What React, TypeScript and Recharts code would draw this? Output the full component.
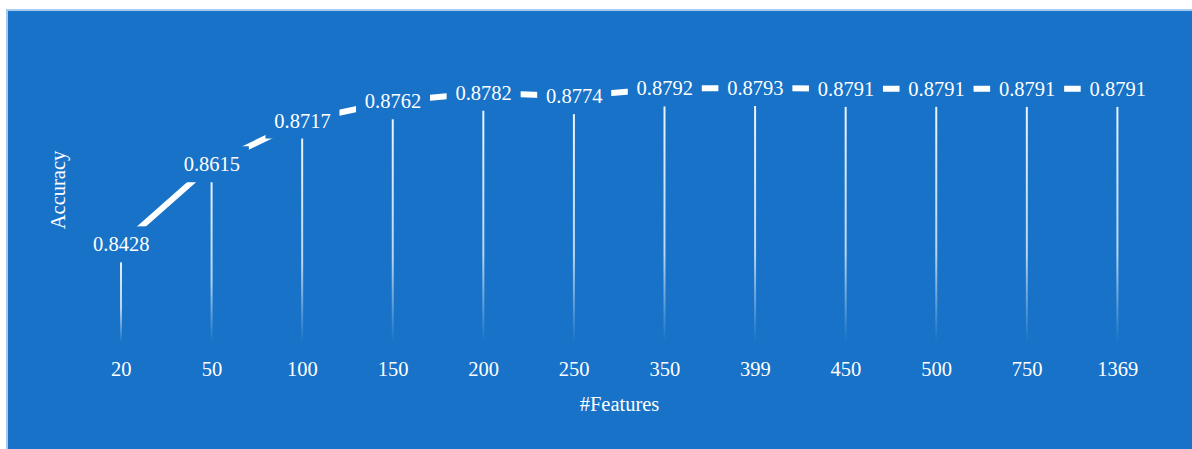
import React from 'react';
import { ComposedChart, Line, Bar, XAxis, YAxis, LabelList } from 'recharts';

const features = ['20', '50', '100', '150', '200', '250', '350', '399', '450', '500', '750', '1369'];
const accuracy = [0.8428, 0.8615, 0.8717, 0.8762, 0.8782, 0.8774, 0.8792, 0.8793, 0.8791, 0.8791, 0.8791, 0.8791];
const yDomain = [0.82, 0.88];

const BLUE = '#1772c8';
const FONT = '"Liberation Serif", "Times New Roman", serif';
const FS = 20.5;

const data = features.map((f, i) => ({ feature: f, acc: accuracy[i] }));

// label box filled with background colour, hides the line behind it
const ValueLabel = (props: any) => {
    const { x, y, value } = props;
    return (
        <g>
            <rect x={x - 37} y={y - 18} width={74} height={36} fill={BLUE} />
            <text x={x} y={y + 7} textAnchor="middle" fill="#fff" fontSize={FS} fontFamily={FONT}>
                {Number(value).toFixed(4)}
            </text>
        </g>
    );
};

const App: React.FC = () => {
    return (
        <div style={{ position: 'absolute', left: 0, top: 0, width: 1192, height: 449, background: '#fff' }}>
            <div
                style={{
                    position: 'absolute',
                    left: 6,
                    top: 9,
                    width: 1186,
                    height: 440,
                    boxSizing: 'border-box',
                    background: BLUE,
                    borderLeft: '2px solid #a6cbee',
                    borderTop: '2px solid #a6cbee'
                }}
            />
            <div style={{ position: 'absolute', left: 0, top: 0 }}>
                <ComposedChart
                    width={1192}
                    height={449}
                    data={data}
                    margin={{ top: 85, right: 29, bottom: 47, left: 16 }}
                >
                    <defs>
                        <linearGradient id="dropFade" x1="0" y1="0" x2="0" y2="1">
                            <stop offset="0%" stopColor="#ffffff" stopOpacity={0.95} />
                            <stop offset="65%" stopColor="#ffffff" stopOpacity={0.7} />
                            <stop offset="100%" stopColor="#ffffff" stopOpacity={0} />
                        </linearGradient>
                    </defs>
                    <XAxis
                        dataKey="feature"
                        height={60}
                        axisLine={false}
                        tickLine={false}
                        tickMargin={13}
                        tick={{ fill: '#fff', fontSize: FS, fontFamily: FONT }}
                        label={{
                            content: (p: any) => {
                                const vb = p.viewBox || {};
                                return (
                                    <text
                                        x={vb.x + vb.width / 2}
                                        y={vb.y + 69}
                                        textAnchor="middle"
                                        fill="#fff"
                                        fontSize={FS}
                                        fontFamily={FONT}
                                    >
                                        #Features
                                    </text>
                                );
                            }
                        }}
                    />
                    <YAxis
                        domain={yDomain}
                        width={60}
                        axisLine={false}
                        tickLine={false}
                        tick={false}
                        label={{
                            content: (p: any) => {
                                const vb = p.viewBox || {};
                                const cx = vb.x + 49;
                                const cy = vb.y + 105;
                                return (
                                    <text
                                        x={cx}
                                        y={cy}
                                        textAnchor="middle"
                                        fill="#fff"
                                        fontSize={FS}
                                        fontFamily={FONT}
                                        transform={`rotate(-90, ${cx}, ${cy})`}
                                    >
                                        Accuracy
                                    </text>
                                );
                            }
                        }}
                    />
                    <Bar dataKey="acc" barSize={2} fill="url(#dropFade)" isAnimationActive={false} />
                    <Line
                        type="linear"
                        dataKey="acc"
                        stroke="#fff"
                        strokeWidth={6}
                        dot={false}
                        activeDot={false}
                        isAnimationActive={false}
                    >
                        <LabelList dataKey="acc" content={ValueLabel} />
                    </Line>
                </ComposedChart>
            </div>
        </div>
    );
};

export default App;
